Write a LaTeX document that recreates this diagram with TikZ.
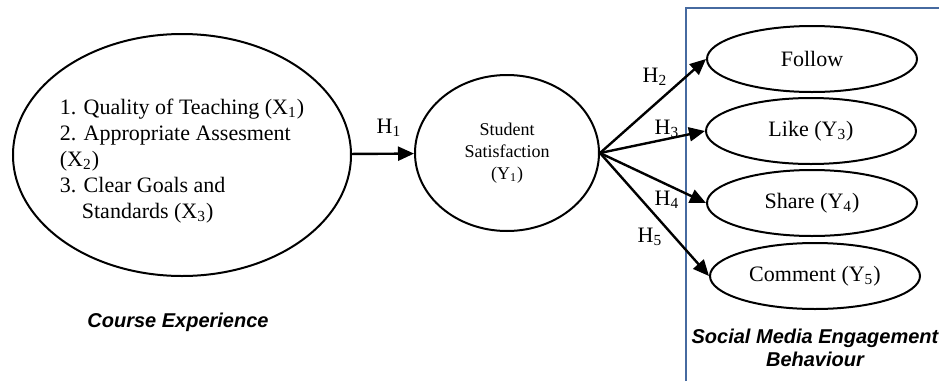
\documentclass[tikz,border=0pt]{standalone}
\usepackage{fontspec}
\setmainfont{Liberation Serif}
\setsansfont{Liberation Sans}
\usepackage{tikz}
\usetikzlibrary{arrows.meta,shapes.geometric}
\definecolor{boxblue}{RGB}{70,106,160}

\begin{document}
\begin{tikzpicture}[x=0.5pt,y=-0.5pt]
				\tikzstyle{latent}=[ellipse,draw=black,line width=1pt,inner sep=0pt,font=\fontsize{11}{13.5}\selectfont]
				\tikzstyle{link}=[line width=1.2pt,-{Triangle[length=8pt,width=7pt]}]
				\tikzstyle{hyp}=[inner sep=0pt,font=\fontsize{11}{13}\selectfont]
				\tikzstyle{title}=[inner sep=0pt,align=center,font=\sffamily\bfseries\itshape\fontsize{10}{11.5}\selectfont]
				\useasboundingbox (0,0) rectangle (939,381);
				\node[latent,minimum width=169pt,minimum height=121pt](ce) at (182,155) {};
				\node[inner sep=0pt,align=left,font=\fontsize{11}{13}\selectfont](cet) at (182,161) {1. Quality of Teaching (X\textsubscript{1})\\2. Appropriate Assesment\\(X\textsubscript{2})\\3. Clear Goals and\\\hspace{11pt}Standards (X\textsubscript{3})};
				\node[latent,minimum width=92pt,minimum height=78pt,align=center,font=\fontsize{9}{11}\selectfont](ss) at (507,153) {Student\\Satisfaction\\(Y\textsubscript{1})};
				\node[latent,minimum width=105pt,minimum height=33pt](fw) at (812,59) {Follow};
				\node[latent,minimum width=105pt,minimum height=33pt](lk) at (811,131) {Like (Y\textsubscript{3})};
				\node[latent,minimum width=105pt,minimum height=33pt](sh) at (812,203) {Share (Y\textsubscript{4})};
				\node[latent,minimum width=105pt,minimum height=33pt](cm) at (815,276) {Comment (Y\textsubscript{5})};
				\draw[boxblue,line width=1.2pt] (686,381) -- (686,8) -- (939,8);
				\draw[link] (ce) to (ss);
				\draw[link] (ss.east) to (fw.west);
				\draw[link] (ss.east) to (lk.west);
				\draw[link] (ss.east) to (sh.west);
				\draw[link] (ss.east) to (cm.west);
				\node[hyp](h1) at (389,128) {H\textsubscript{1}};
				\node[hyp](h2) at (655,77) {H\textsubscript{2}};
				\node[hyp](h3) at (667,129) {H\textsubscript{3}};
				\node[hyp](h4) at (667,200) {H\textsubscript{4}};
				\node[hyp](h5) at (650,237) {H\textsubscript{5}};
				\node[title](cex) at (178,322) {Course Experience};
				\node[title](sme) at (815,348) {Social Media Engagement\\Behaviour};
			\end{tikzpicture}
\end{document}
